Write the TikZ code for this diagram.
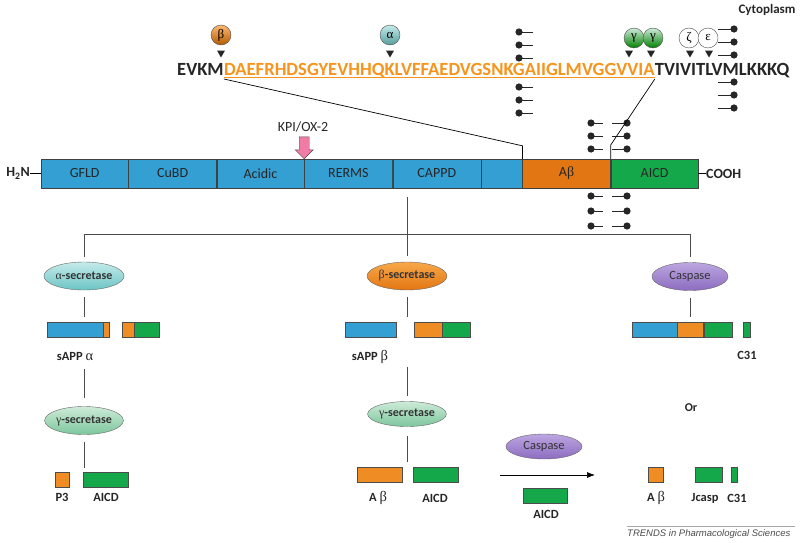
\documentclass[tikz,border=0pt]{standalone}
\usepackage{fontspec}
\setmainfont{Carlito}
\newfontfamily\grk{Liberation Serif}
\newfontfamily\trendsfont{Liberation Sans}
\newcommand{\gk}[1]{{\grk\mdseries #1}}
\newcommand{\gkbig}[1]{{\grk\mdseries\fontsize{14.5}{14}\selectfont #1}}
\usetikzlibrary{arrows.meta, positioning, shapes.geometric}

\definecolor{appblueL}{HTML}{8ADAF8}
\definecolor{appblueD}{HTML}{349FD3}
\definecolor{aborange}{HTML}{F08C24}
\definecolor{aborangeL}{HTML}{F8A84A}
\definecolor{aborangeD}{HTML}{E27612}
\definecolor{aicdgreen}{HTML}{14A84B}
\definecolor{seqorange}{HTML}{F7941D}
\definecolor{kpipink}{HTML}{F07BA5}
\definecolor{gammaL}{HTML}{CDEBD8}
\definecolor{gammaD}{HTML}{7DC69C}
\definecolor{caspL}{HTML}{BCA6E0}
\definecolor{caspD}{HTML}{8C6CC0}
\definecolor{alphaL}{HTML}{C4EBEB}
\definecolor{alphaD}{HTML}{6CC4C4}

\begin{document}
\begin{tikzpicture}[x=1pt, y=-1pt,
    node distance=0pt,
    seg/.style={draw=black!75, minimum height=29pt, inner sep=0pt, font=\fontsize{14}{16}\selectfont, text=black!85},
    appseg/.style={seg, top color=appblueD, middle color=appblueL, bottom color=appblueD},
    abseg/.style={seg, top color=aborangeD, middle color=aborangeL, bottom color=aborangeD},
    aicdseg/.style={seg, fill=aicdgreen},
    lab/.style={font=\fontsize{12.5}{14}\selectfont\bfseries, text=black!85, inner sep=0pt},
    seq/.style={font=\fontsize{18.6}{22}\selectfont\bfseries, text=black!85, inner sep=0pt, anchor=base west},
    cut/.style={circle, draw=black!70, minimum size=20pt, inner sep=0pt, font=\fontsize{13}{14}\selectfont\grk},
    tri/.style={regular polygon, regular polygon sides=3, shape border rotate=180, fill=black!85, inner sep=0pt, minimum size=9pt},
    enzyme/.style={ellipse, draw=black!60, minimum width=76pt, minimum height=28pt, inner sep=0pt, font=\fontsize{12}{13}\selectfont\bfseries, text=black!80},
    frag/.style={draw=black!70, minimum height=15pt, inner sep=0pt},
    fblue/.style={frag, top color=appblueD, middle color=appblueL, bottom color=appblueD},
    forange/.style={frag, fill=aborange},
    fgreen/.style={frag, fill=aicdgreen},
    link/.style={draw=black!70, line width=0.7pt},
    arrow/.style={-{Latex[length=8pt, width=6pt]}, line width=0.7pt}
]
\useasboundingbox (0,0) rectangle (800,543);

% APP holoprotein
\node[appseg, minimum width=87pt, anchor=west] (gfld) at (41,173.5) {GFLD};
\node[appseg, minimum width=88pt, right=of gfld] (cubd) {CuBD};
\node[appseg, minimum width=87pt, right=of cubd] (acidic) {Acidic};
\node[appseg, minimum width=88pt, right=of acidic] (rerms) {RERMS};
\node[appseg, minimum width=88pt, right=of rerms] (cappd) {CAPPD};
\node[appseg, minimum width=41pt, right=of cappd] (juxta) {};
\node[abseg, minimum width=88pt, right=of juxta] (abeta) {A\gk{β}};
\node[aicdseg, minimum width=87pt, right=of abeta] (aicd) {AICD};
\node[lab, font=\fontsize{14}{16}\selectfont\bfseries, anchor=east] (h2n) at (30,173.5) {H\textsubscript{2}N};
\node[lab, font=\fontsize{14}{16}\selectfont\bfseries, anchor=west] (cooh) at (706,173.5) {COOH};
\draw[link, black] (h2n) -- (gfld);
\draw[link, black] (aicd) -- (cooh);

% KPI insert site
\node[font=\fontsize{14}{16}\selectfont, text=black!85] (kpi) at (303,127) {KPI/OX-2};
\draw[draw=black!70, fill=kpipink] (rerms.north west) -- ++(-9,-9) -- ++(4,0) -- ++(0,-13) -- ++(10,0) -- ++(0,13) -- ++(4,0) -- cycle;

% sequence
\node[seq] (nterm) at (177,75) {EVKM};
\node[seq, text=seqorange] (abseq) at (nterm.base east) {DAEFRHDSGYEVHHQKLVFFAEDVGSNKGAIIGLMVGGVVIA};
\node[seq] (cterm) at (abseq.base east) {TVIVITLVMLKKKQ};
\draw[seqorange, line width=1.3pt] ([yshift=-2.8pt]abseq.base west) -- ([yshift=-2.8pt]abseq.base east);
\node[lab, font=\fontsize{13}{15}\selectfont\bfseries] (cyto) at (767,10) {Cytoplasm};

% cleavage sites
\node[cut, top color=orange!55!white, bottom color=orange!70!black] (cutb) at (221,35) {β};
\node[cut, top color=alphaL, bottom color=alphaD!80!black] (cuta) at (390,35) {α};
\node[cut, top color=gammaL, bottom color=green!50!black] (cutg1) at (634,38) {γ};
\node[cut, top color=gammaL, bottom color=green!50!black] (cutg2) at (653,38) {γ};
\node[cut, fill=white] (cutz) at (689,38) {ζ};
\node[cut, fill=white] (cute) at (708,38) {ε};
\node[tri] (trib) at (221,53) {};
\node[tri] (tria) at (390,53) {};
\node[tri] (trig1) at (629,53) {};
\node[tri] (trig2) at (651,53) {};
\node[tri] (triz) at (690,53) {};
\node[tri] (trie) at (709,53) {};

% membrane lipids
\foreach \y in {32,45,58,87,100,113} {
  \draw[black!85, line width=0.8pt] (519,\y) -- (533,\y);
  \fill[black!85] (519,\y) circle (3.6pt);
}
\foreach \y in {29,42,55,82,95,108} {
  \draw[black!85, line width=0.8pt] (718,\y) -- (734,\y);
  \fill[black!85] (734,\y) circle (3.6pt);
}
\foreach \y in {123,136,149,196,211,226} {
  \draw[black!85, line width=0.8pt] (591,\y) -- (603,\y) (612,\y) -- (627,\y);
  \fill[black!85] (591,\y) circle (3.6pt) (627,\y) circle (3.6pt);
}

\draw[link, black] ([yshift=-4pt]nterm.base east) -- ([yshift=13pt]abeta.north west) -- (abeta.north west);
\draw[link, black] ([yshift=-4pt]abseq.base east) -- ([yshift=14pt]aicd.north west) -- (aicd.north west);

% processing pathways
\coordinate (branch) at (407,234);
\node[enzyme, top color=alphaL, bottom color=alphaD] (asec) at (84,276) {\gk{α}-secretase};
\node[enzyme, top color=aborangeL, bottom color=aborangeD] (bsec) at (407,276) {\gk{β}-secretase};
\node[enzyme, top color=caspL, bottom color=caspD, font=\fontsize{12.5}{14}\selectfont] (csp) at (690,276.5) {Caspase};
\draw[link, shorten <=9pt, shorten >=6pt] (bsec.north |- cappd.south) -- (bsec.north);
\draw[link, shorten >=5pt] (branch) -| (asec.north);
\draw[link, shorten >=5pt] (branch) -| (csp.north);

% alpha pathway
\node[fblue, minimum width=56pt, anchor=west] (sappa) at (47,330) {};
\node[forange, minimum width=6pt, right=of sappa] (sappastub) {};
\node[forange, minimum width=12pt, anchor=west] (ctfa) at (122,330) {};
\node[fgreen, minimum width=25pt, right=of ctfa] (ctfaicd) {};
\node[lab] (sappalab) at (75,357) {sAPP \gkbig{α}};
\draw[link, shorten <=7pt, shorten >=5pt] (asec.south) -- (asec.south |- sappa.north);
\node[enzyme, top color=gammaL, bottom color=gammaD] (gseca) at (84,420.5) {\gk{γ}-secretase};
\draw[link, shorten <=8pt, shorten >=8pt] (sappalab.south -| gseca.north) -- (gseca.north);
\node[forange, minimum width=14pt, anchor=west] (p3) at (55,480) {};
\node[fgreen, minimum width=45pt, anchor=west] (aicda) at (83,480) {};
\draw[link, shorten <=7pt, shorten >=4pt] (gseca.south) -- (gseca.south |- aicda.north);
\node[lab] (p3lab) at (62,497) {P3};
\node[lab] (aicdalab) at (106,497) {AICD};

% beta pathway
\node[fblue, minimum width=51pt, anchor=west] (sappb) at (345,330) {};
\node[forange, minimum width=28pt, anchor=west] (ctfb) at (414,330) {};
\node[fgreen, minimum width=28pt, right=of ctfb] (ctfbicd) {};
\node[lab] (sappblab) at (370,357) {sAPP \gkbig{β}};
\draw[link, shorten <=7pt, shorten >=5pt] (bsec.south) -- (bsec.south |- sappb.north);
\node[enzyme, minimum height=25pt, top color=gammaL, bottom color=gammaD] (gsecb) at (407,414) {\gk{γ}-secretase};
\draw[link, shorten <=3pt, shorten >=5pt] (sappblab.south -| gsecb.north) -- (gsecb.north);
\node[forange, minimum width=45pt, anchor=west] (abb) at (357,474.5) {};
\node[fgreen, minimum width=45pt, anchor=west] (aicdb) at (413,474.5) {};
\draw[link, shorten <=9pt, shorten >=5pt] (gsecb.south) -- (gsecb.south |- aicdb.north);
\node[lab] (abblab) at (378,498) {A \gkbig{β}};
\node[lab] (aicdblab) at (435,498) {AICD};

% caspase on AICD
\node[enzyme, minimum height=25pt, top color=caspL, bottom color=caspD, font=\fontsize{12.5}{14}\selectfont] (cspm) at (544,446.5) {Caspase};
\coordinate (cspfrom) at (500,475);
\coordinate (cspto) at (595,475);
\draw[arrow] (cspfrom) -- (cspto);
\node[fgreen, minimum width=44pt, anchor=west] (aicdm) at (523,496) {};
\node[lab] (aicdmlab) at (546,514) {AICD};

\node[lab, font=\fontsize{12}{14}\selectfont\bfseries] (orlab) at (691,408) {Or};
\node[forange, minimum width=15pt, anchor=west] (abr) at (648,474.5) {};
\node[fgreen, minimum width=27pt, anchor=west] (jcasp) at (695,474.5) {};
\node[fgreen, minimum width=6pt, anchor=west] (c31r) at (731,474.5) {};
\node[lab] (abrlab) at (656,498) {A \gkbig{β}};
\node[lab] (jcasplab) at (705,498) {Jcasp};
\node[lab] (c31rlab) at (737,498) {C31};

% caspase pathway
\node[fblue, minimum width=45pt, anchor=west] (casblue) at (632,330) {};
\node[forange, minimum width=26pt, right=of casblue] (casab) {};
\node[fgreen, minimum width=28pt, right=of casab] (casaicd) {};
\node[fgreen, minimum width=7pt, anchor=west] (c31) at (743,330) {};
\node[lab] (c31lab) at (747,355) {C31};
\draw[link, shorten <=7pt, shorten >=5pt] (csp.south) -- (csp.south |- casblue.north);

% footer
\draw[black!35, line width=1pt] (627,526) -- (795,526);
\node[font=\fontsize{9.5}{11}\selectfont\trendsfont\itshape, text=black!70, anchor=west, inner sep=0pt] (trends) at (627,534) {TRENDS in Pharmacological Sciences};
\end{tikzpicture}
\end{document}
